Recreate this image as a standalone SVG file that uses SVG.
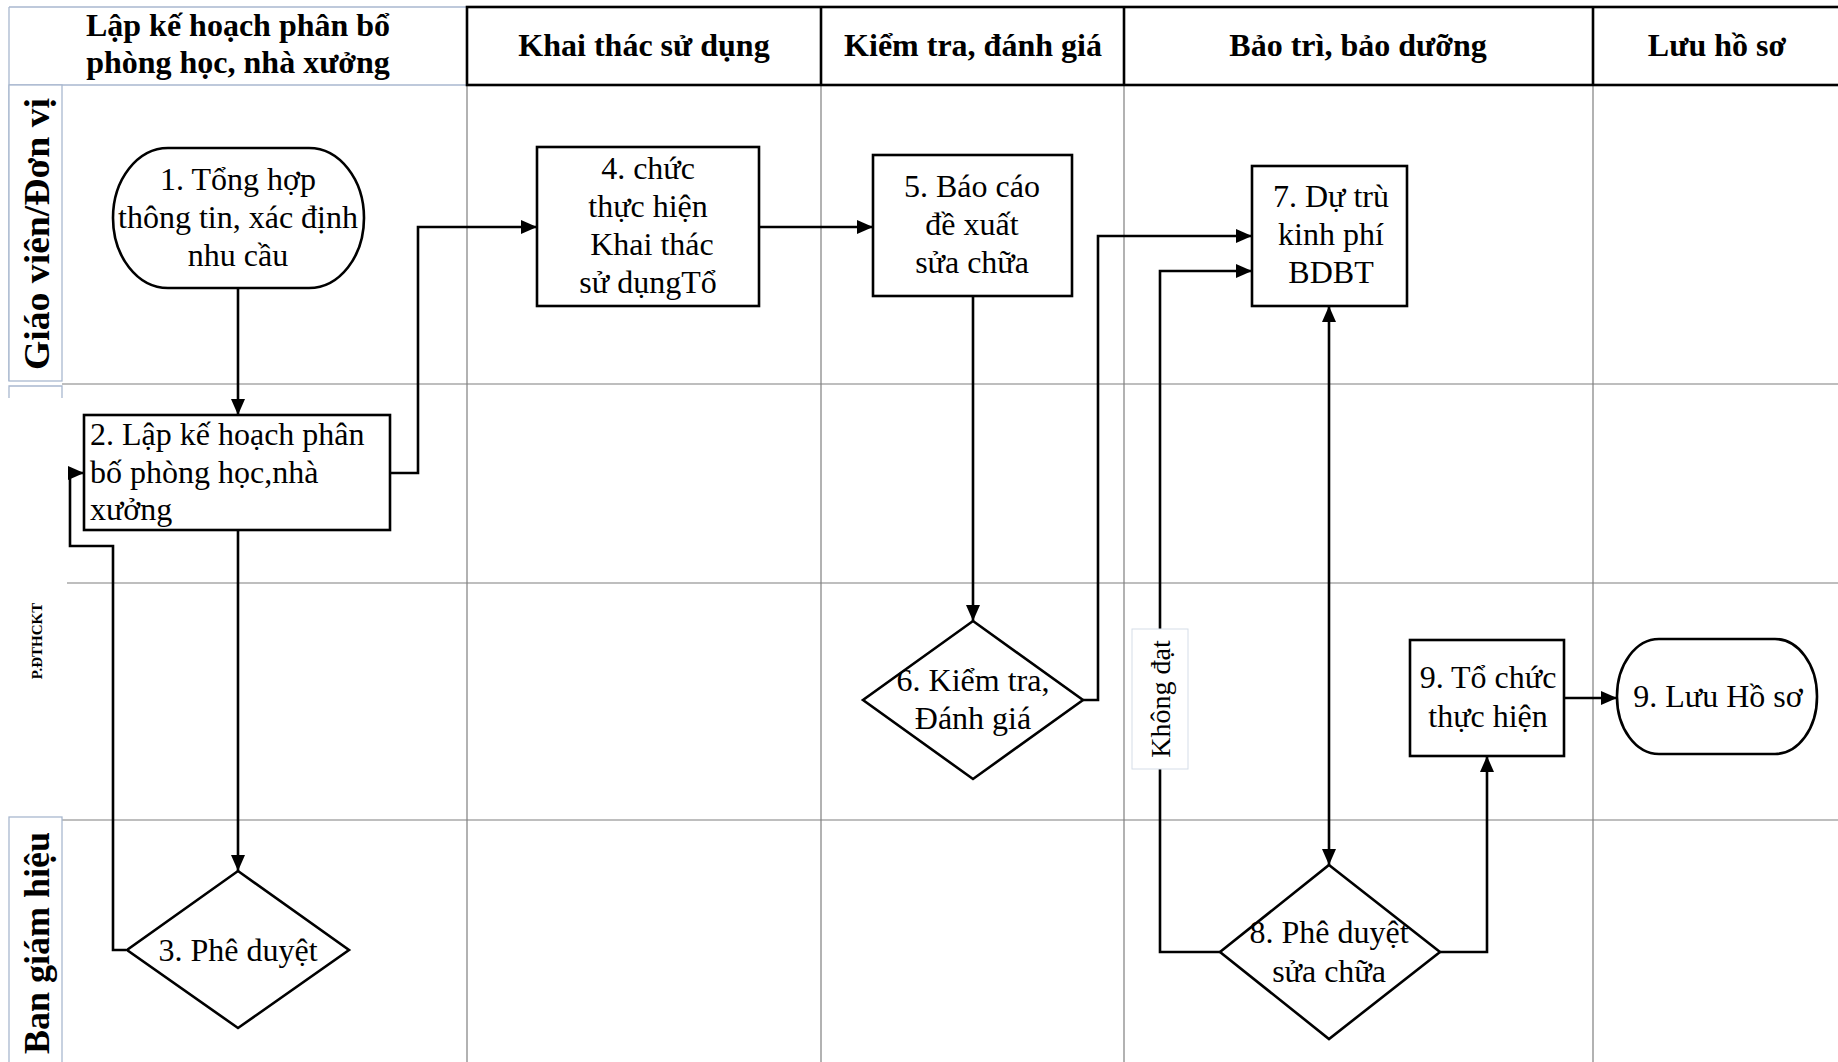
<svg xmlns="http://www.w3.org/2000/svg" width="1838" height="1062" viewBox="0 0 1838 1062">
<style>
.lane{stroke:#7f7f7f;stroke-width:1.2;fill:none}
.lbox{stroke:#a9b8cf;stroke-width:1.3;fill:#fff}
.hdr{font-family:"Liberation Serif","Times New Roman",serif;font-weight:bold;font-size:32px;fill:#000;text-anchor:middle}
.lt{font-family:"Liberation Serif","Times New Roman",serif;font-weight:bold;font-size:36px;fill:#000;text-anchor:middle}
.node{fill:#fff;stroke:#000;stroke-width:2.6}
.t{font-family:"Liberation Serif","Times New Roman",serif;font-size:32px;fill:#000;text-anchor:middle}
.t2{font-family:"Liberation Serif","Times New Roman",serif;font-size:32px;fill:#000}
.c{fill:none;stroke:#000;stroke-width:2.6}
</style>
<defs>
<marker id="arr" markerUnits="userSpaceOnUse" markerWidth="17" markerHeight="15" refX="16" refY="7" orient="auto-start-reverse">
<path d="M0,0 L16,7 L0,14 z" fill="#000"/>
</marker>
</defs>
<rect width="1838" height="1062" fill="#fff"/>

<g id="lanes">
<line class="lane" x1="467" y1="85" x2="467" y2="1062"/>
<line class="lane" x1="821" y1="85" x2="821" y2="1062"/>
<line class="lane" x1="1124" y1="85" x2="1124" y2="1062"/>
<line class="lane" x1="1593" y1="85" x2="1593" y2="1062"/>
<line class="lane" x1="62" y1="384" x2="1838" y2="384"/>
<line class="lane" x1="67" y1="583" x2="1838" y2="583"/>
<line class="lane" x1="62" y1="820" x2="1838" y2="820"/>
</g>

<g id="header">
<path d="M9,7 H467 M9,7 V381 M9,85 H467" class="lbox"/>
<text class="hdr" x="238" y="36">Lập kế hoạch phân bổ</text>
<text class="hdr" x="238" y="73">phòng học, nhà xưởng</text>
<rect x="467" y="7" width="1380" height="78" fill="#fff" stroke="#000" stroke-width="2.6"/>
<line x1="821" y1="7" x2="821" y2="85" stroke="#000" stroke-width="2.6"/>
<line x1="1124" y1="7" x2="1124" y2="85" stroke="#000" stroke-width="2.6"/>
<line x1="1593" y1="7" x2="1593" y2="85" stroke="#000" stroke-width="2.6"/>
<text class="hdr" x="644" y="56">Khai thác sử dụng</text>
<text class="hdr" x="973" y="56">Kiểm tra, đánh giá</text>
<text class="hdr" x="1358" y="56">Bảo trì, bảo dưỡng</text>
<text class="hdr" x="1717" y="56" font-size="34">Lưu hồ sơ</text>
</g>

<g id="lane-labels">
<rect class="lbox" x="9" y="85" width="53" height="296"/>
<text class="lt" transform="translate(49,234) rotate(-90)" textLength="272" lengthAdjust="spacingAndGlyphs">Giáo viên/Đơn vị</text>
<path class="lbox" d="M9,398 V386 H62 V398"/>
<text transform="translate(42,641) rotate(-90)" font-family="Liberation Serif, Times New Roman, serif" font-weight="bold" font-size="15" text-anchor="middle">P.ĐTHCKT</text>
<rect class="lbox" x="9" y="817" width="53" height="260"/>
<text class="lt" transform="translate(49,943) rotate(-90)" textLength="222" lengthAdjust="spacingAndGlyphs">Ban giám hiệu</text>
</g>

<g id="connectors">
<path class="c" d="M238,288 V415" marker-end="url(#arr)"/>
<path class="c" d="M390,473 H418 V227 H537" marker-end="url(#arr)"/>
<path class="c" d="M238,530 V871" marker-end="url(#arr)"/>
<path class="c" d="M126,950 H113 V546 H70 V473 H84" marker-end="url(#arr)"/>
<path class="c" d="M759,227 H873" marker-end="url(#arr)"/>
<path class="c" d="M973,296 V621" marker-end="url(#arr)"/>
<path class="c" d="M1083,700 H1098 V236 H1252" marker-end="url(#arr)"/>
<path class="c" d="M1220,952 H1160 V271 H1252" marker-end="url(#arr)"/>
<path class="c" d="M1329,306 V865" marker-start="url(#arr)" marker-end="url(#arr)"/>
<path class="c" d="M1440,952 H1487 V756" marker-end="url(#arr)"/>
<path class="c" d="M1564,698 H1617" marker-end="url(#arr)"/>
<g id="label-khong-dat">
<rect x="1132" y="629" width="56" height="140" fill="#fff" stroke="#d5dde8" stroke-width="1"/>
<text transform="translate(1170,699) rotate(-90)" font-family="Liberation Serif, Times New Roman, serif" font-size="28" text-anchor="middle">Không đạt</text>
</g>
</g>

<g id="node1">
<rect class="node" x="113" y="148" width="251" height="140" rx="55" ry="70"/>
<text class="t" x="238" y="190">1. Tổng hợp</text>
<text class="t" x="238" y="228">thông tin, xác định</text>
<text class="t" x="238" y="266">nhu cầu</text>
</g>

<g id="node2">
<rect class="node" x="84" y="415" width="306" height="115"/>
<text class="t2" x="90" y="445">2. Lập kế hoạch phân</text>
<text class="t2" x="90" y="483">bố phòng học,nhà</text>
<text class="t2" x="90" y="520">xưởng</text>
</g>

<g id="node3">
<polygon class="node" points="238,871 349,950 238,1028 127,950"/>
<text class="t" x="238" y="961">3. Phê duyệt</text>
</g>

<g id="node4">
<rect class="node" x="537" y="147" width="222" height="159"/>
<text class="t" x="648" y="179">4. chức</text>
<text class="t" x="648" y="217">thực hiện</text>
<text class="t" x="652" y="255">Khai thác</text>
<text class="t" x="648" y="293">sử dụngTổ</text>
</g>

<g id="node5">
<rect class="node" x="873" y="155" width="199" height="141"/>
<text class="t" x="972" y="197">5. Báo cáo</text>
<text class="t" x="972" y="235">đề xuất</text>
<text class="t" x="972" y="273">sửa chữa</text>
</g>

<g id="node6">
<polygon class="node" points="973,621 1083,700 973,779 863,700"/>
<text class="t" x="973" y="691">6. Kiểm tra,</text>
<text class="t" x="973" y="729">Đánh giá</text>
</g>

<g id="node7">
<rect class="node" x="1252" y="166" width="155" height="140"/>
<text class="t" x="1331" y="207">7. Dự trù</text>
<text class="t" x="1331" y="245">kinh phí</text>
<text class="t" x="1331" y="283">BDBT</text>
</g>

<g id="node8">
<polygon class="node" points="1329,865 1440,952 1329,1039 1220,952"/>
<text class="t" x="1329" y="943">8. Phê duyệt</text>
<text class="t" x="1329" y="982">sửa chữa</text>
</g>

<g id="node9a">
<rect class="node" x="1410" y="640" width="154" height="116"/>
<text class="t" x="1488" y="688">9. Tổ chức</text>
<text class="t" x="1488" y="727">thực hiện</text>
</g>

<g id="node9b">
<rect class="node" x="1617" y="639" width="200" height="115" rx="42" ry="57"/>
<text class="t" x="1718" y="707">9. Lưu Hồ sơ</text>
</g>
</svg>
